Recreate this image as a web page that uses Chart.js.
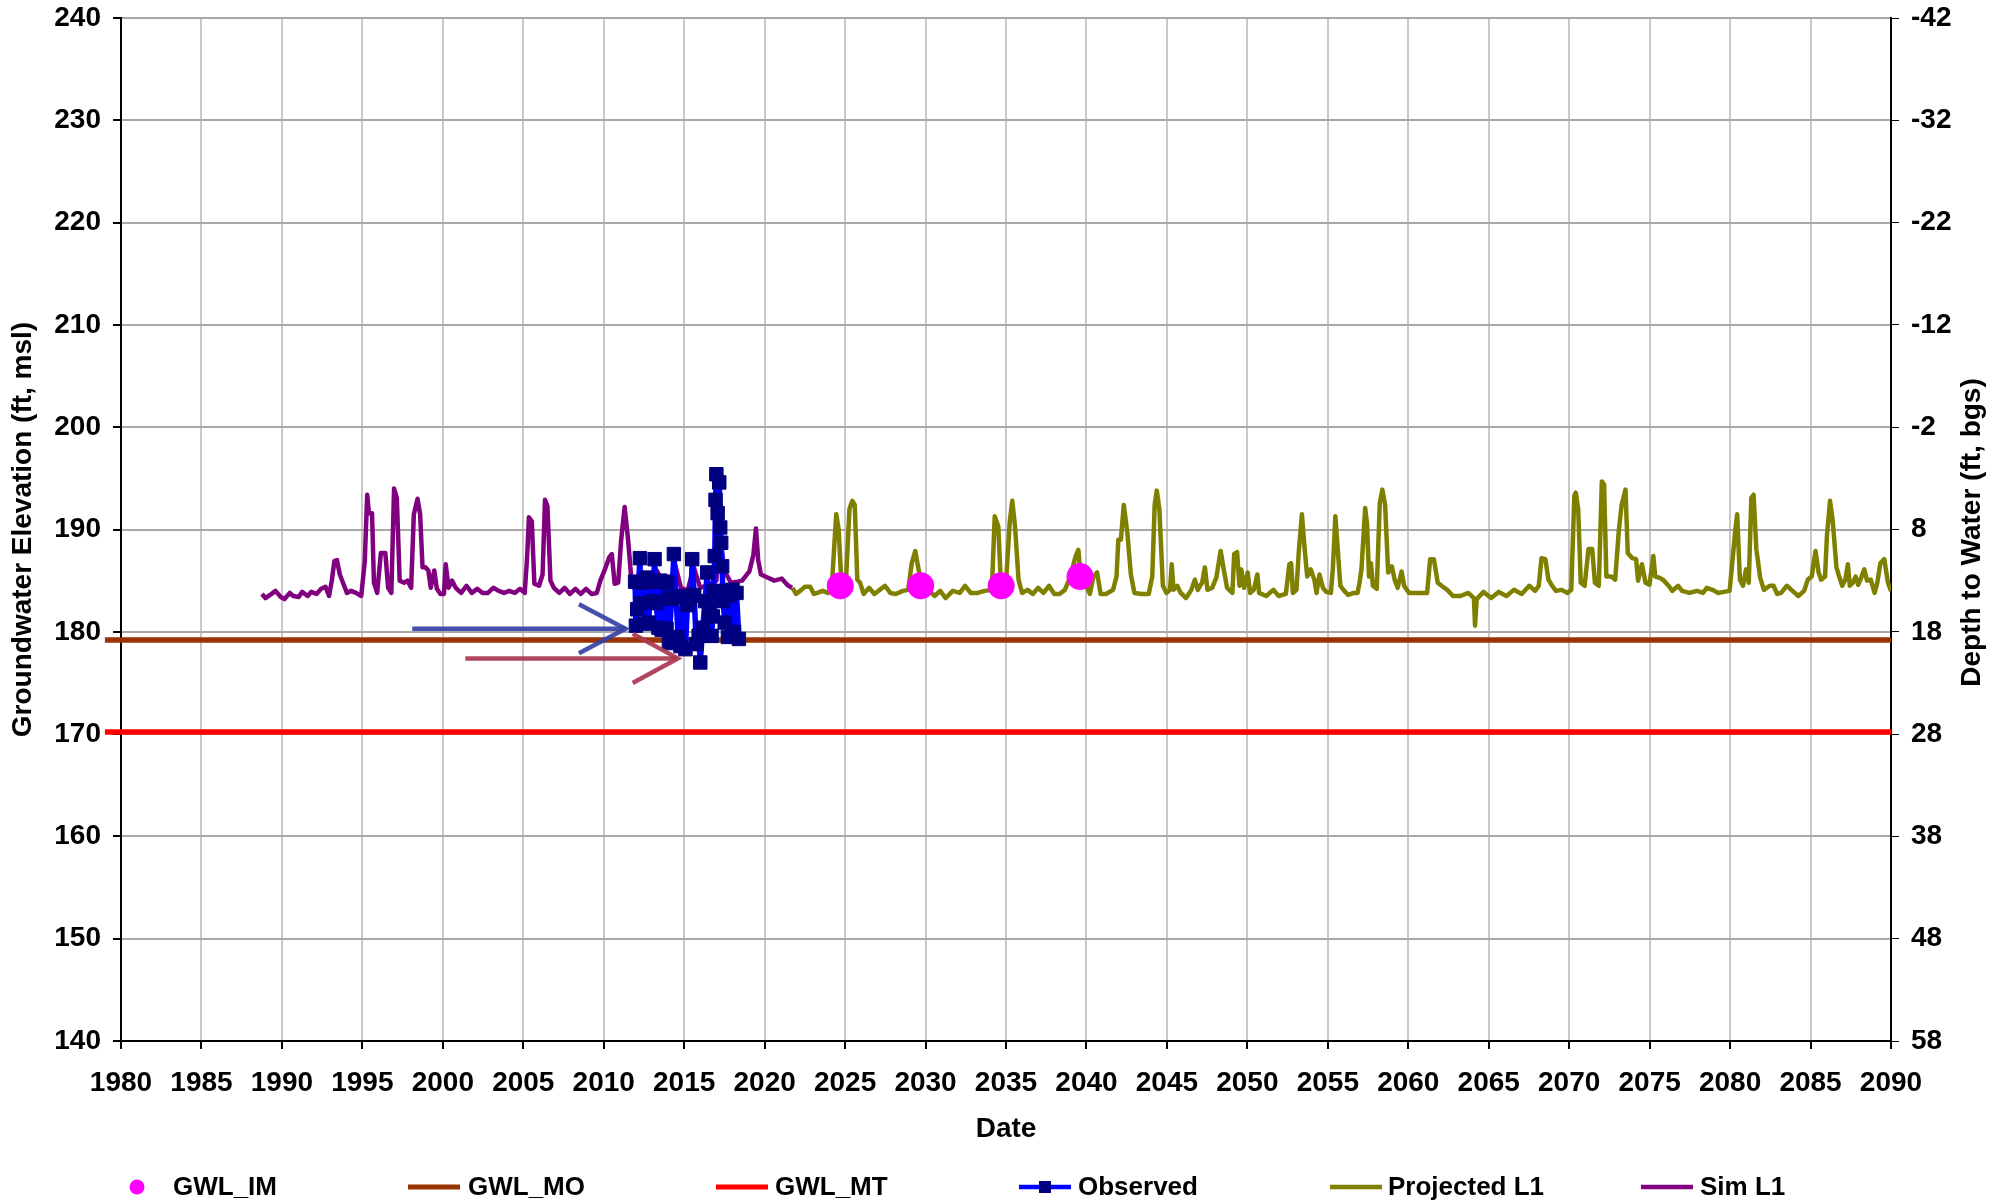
<!DOCTYPE html>
<html>
<head>
<meta charset="utf-8">
<script src="https://cdn.jsdelivr.net/npm/chart.js@4.4.1/dist/chart.umd.min.js"></script>
<style>
  html, body { margin: 0; padding: 0; background: #ffffff; }
  #wrap { width: 2006px; height: 1203px; }
</style>
</head>
<body>
<div id="wrap"><canvas id="myCanvas" width="2006" height="1203"></canvas></div>
<script>
// axis ranges / labels
const yearMin = 1980, yearMax = 2090, yearStep = 5;
const elevMin = 140, elevMax = 240, elevStep = 10;
const depthTop = -42, depthBottom = 58;
const xTitle = "Date";
const yTitle = "Groundwater Elevation (ft, msl)";
const y2Title = "Depth to Water (ft, bgs)";

// [decimal year, elevation ft msl]
const gwlIM = [[2024.7, 184.5], [2029.7, 184.5], [2034.7, 184.5], [2039.6, 185.4]];
const gwlMO = [[1979, 179.2], [2090, 179.2]];
const gwlMT = [[1979, 170.2], [2090, 170.2]];

const observed = [
  [2011.95,184.9],[2012.0,180.6],[2012.08,182.2],[2012.25,187.2],[2012.3,182.8],[2012.42,184.8],
  [2012.55,180.8],[2012.6,184.9],[2012.67,185.3],[2012.8,180.9],[2012.9,184.9],[2013.05,183.0],
  [2013.16,187.1],[2013.25,182.8],[2013.4,180.4],[2013.5,185.0],[2013.6,180.2],[2013.75,184.9],
  [2013.9,180.3],[2013.95,184.8],[2014.0,183.3],[2014.05,178.9],[2014.22,183.2],[2014.36,187.6],
  [2014.5,183.4],[2014.62,179.5],[2014.77,178.6],[2014.9,183.5],[2015.08,178.3],[2015.2,182.6],
  [2015.35,183.2],[2015.42,183.5],[2015.5,187.1],[2015.62,183.6],[2015.75,178.8],[2015.9,179.6],
  [2016.0,177.0],[2016.15,180.4],[2016.3,183.0],[2016.43,185.8],[2016.55,181.8],[2016.6,182.8],
  [2016.7,179.6],[2016.78,181.5],[2016.82,184.0],[2016.9,187.4],[2016.95,192.9],[2017.0,195.4],
  [2017.08,191.6],[2017.18,194.6],[2017.24,190.2],[2017.3,188.7],[2017.36,186.4],[2017.42,183.0],
  [2017.52,180.9],[2017.62,184.0],[2017.72,179.5],[2017.85,183.5],[2018.0,184.1],[2018.1,180.0],
  [2018.25,183.8],[2018.4,179.3]
];

const simL1 = [
  [1988.76,183.7],[1988.98,183.3],[1989.27,183.6],[1989.6,184.0],[1989.93,183.4],[1990.16,183.2],
  [1990.49,183.8],[1990.71,183.5],[1991.04,183.4],[1991.26,183.9],[1991.6,183.5],[1991.82,183.9],
  [1992.15,183.7],[1992.44,184.2],[1992.71,184.4],[1992.93,183.5],[1993.1,185.0],[1993.26,186.9],
  [1993.42,187.0],[1993.6,185.6],[1993.82,184.7],[1994.04,183.8],[1994.3,184.0],[1994.6,183.8],
  [1994.93,183.5],[1995.15,186.9],[1995.3,193.4],[1995.41,191.6],[1995.6,191.6],[1995.72,184.8],
  [1995.92,183.8],[1996.15,187.7],[1996.43,187.7],[1996.6,184.3],[1996.8,183.8],[1996.97,194.0],
  [1997.14,193.1],[1997.32,185.0],[1997.59,184.8],[1997.81,185.0],[1998.03,184.3],[1998.2,191.5],
  [1998.43,193.0],[1998.59,191.5],[1998.74,186.3],[1998.92,186.3],[1999.1,186.0],[1999.25,184.3],
  [1999.47,186.0],[1999.63,184.2],[1999.85,183.7],[2000.07,183.7],[2000.18,186.6],[2000.36,184.3],
  [2000.58,185.0],[2000.8,184.3],[2001.14,183.8],[2001.47,184.5],[2001.8,183.8],[2002.14,184.2],
  [2002.47,183.8],[2002.8,183.8],[2003.14,184.3],[2003.47,184.0],[2003.8,183.8],[2004.13,184.0],
  [2004.47,183.8],[2004.8,184.2],[2005.09,183.8],[2005.24,187.3],[2005.35,191.2],[2005.53,190.8],
  [2005.69,184.7],[2005.98,184.5],[2006.2,185.6],[2006.35,192.9],[2006.5,192.3],[2006.69,185.0],
  [2006.9,184.3],[2007.24,183.8],[2007.57,184.3],[2007.9,183.7],[2008.24,184.2],[2008.57,183.7],
  [2008.9,184.2],[2009.24,183.7],[2009.57,183.8],[2009.79,185.0],[2010.12,186.3],[2010.35,187.3],
  [2010.5,187.6],[2010.68,184.7],[2010.9,184.8],[2011.08,188.9],[2011.3,192.2],[2011.52,188.9],
  [2011.74,184.7],[2012.0,184.0],[2012.5,185.5],[2013.0,184.5],[2013.3,186.0],[2013.7,184.8],
  [2014.1,184.6],[2014.45,186.5],[2014.8,184.3],[2015.2,184.0],[2015.6,186.3],[2016.0,184.3],
  [2016.5,184.6],[2017.0,185.0],[2017.2,189.5],[2017.5,186.0],[2017.9,184.8],[2018.3,184.9],
  [2018.6,185.0],[2019.05,185.9],[2019.3,187.5],[2019.46,190.1],[2019.6,187.0],[2019.77,185.6],
  [2020.18,185.3],[2020.6,185.0],[2021.06,185.2],[2021.4,184.6],[2021.7,184.3]
];

const projectedL1 = [
  [2021.73,184.3],[2021.95,183.7],[2022.28,184.1],[2022.5,184.4],[2022.83,184.4],[2023.06,183.7],
  [2023.28,183.8],[2023.61,184.0],[2023.94,183.8],[2024.16,184.1],[2024.45,191.5],[2024.6,190.0],
  [2024.78,184.5],[2025.05,184.8],[2025.27,192.0],[2025.45,192.8],[2025.6,192.4],[2025.76,185.1],
  [2025.93,184.8],[2026.15,183.7],[2026.49,184.3],[2026.82,183.7],[2027.15,184.1],[2027.48,184.5],
  [2027.81,183.8],[2028.15,183.7],[2028.59,184.0],[2028.92,184.1],[2029.14,186.7],[2029.36,187.9],
  [2029.59,185.9],[2029.81,184.5],[2030.14,184.1],[2030.58,183.5],[2030.91,184.0],[2031.25,183.3],
  [2031.69,184.0],[2032.13,183.8],[2032.46,184.5],[2032.8,183.8],[2033.24,183.8],[2033.68,184.0],
  [2034.12,184.1],[2034.3,191.3],[2034.52,190.3],[2034.68,184.8],[2035.01,185.0],[2035.23,190.7],
  [2035.39,192.8],[2035.56,190.3],[2035.78,185.1],[2036.0,183.8],[2036.34,184.1],[2036.67,183.7],
  [2037.0,184.3],[2037.33,183.8],[2037.67,184.5],[2038.0,183.7],[2038.33,183.7],[2038.66,184.1],
  [2039.0,185.4],[2039.33,187.4],[2039.5,188.0],[2039.66,184.8],[2039.99,184.5],[2040.21,183.7],
  [2040.43,185.4],[2040.66,185.8],[2040.88,183.7],[2041.21,183.7],[2041.65,184.1],[2041.87,185.4],
  [2041.98,189.0],[2042.14,189.0],[2042.32,192.4],[2042.54,189.7],[2042.76,185.6],[2042.98,183.8],
  [2043.42,183.7],[2043.87,183.7],[2044.09,185.4],[2044.24,192.4],[2044.37,193.8],[2044.53,192.0],
  [2044.75,184.5],[2044.97,183.8],[2045.19,184.1],[2045.3,186.6],[2045.41,184.1],[2045.64,184.5],
  [2045.86,183.8],[2046.19,183.3],[2046.52,184.1],[2046.74,185.1],[2046.92,184.1],[2047.19,184.8],
  [2047.36,186.3],[2047.52,184.1],[2047.81,184.3],[2048.07,185.3],[2048.34,187.9],[2048.51,186.3],
  [2048.74,184.3],[2049.07,183.8],[2049.18,187.6],[2049.36,187.8],[2049.51,184.5],[2049.62,186.1],
  [2049.8,184.3],[2050.02,185.8],[2050.17,183.8],[2050.4,184.1],[2050.62,185.6],[2050.73,183.8],
  [2051.17,183.5],[2051.61,184.1],[2051.95,183.5],[2052.39,183.7],[2052.61,186.6],[2052.72,186.7],
  [2052.83,183.8],[2053.05,184.1],[2053.2,187.9],[2053.39,191.5],[2053.56,188.1],[2053.72,185.4],
  [2053.94,186.1],[2054.16,185.1],[2054.3,183.8],[2054.48,185.6],[2054.7,184.3],[2054.9,183.9],
  [2055.19,183.8],[2055.31,186.1],[2055.47,191.3],[2055.66,187.1],[2055.78,184.5],[2056.02,184.0],
  [2056.26,183.6],[2056.61,183.8],[2056.85,183.8],[2056.97,184.8],[2057.09,186.1],[2057.2,188.9],
  [2057.32,192.1],[2057.44,190.5],[2057.56,185.4],[2057.68,186.7],[2057.8,184.5],[2058.04,184.2],
  [2058.23,192.6],[2058.39,193.9],[2058.56,192.4],[2058.75,185.8],[2058.98,186.4],[2059.15,185.1],
  [2059.34,184.3],[2059.58,185.9],[2059.74,184.5],[2060.05,183.8],[2060.41,183.8],[2060.88,183.8],
  [2061.17,183.8],[2061.36,187.1],[2061.59,187.1],[2061.83,184.8],[2062.07,184.5],[2062.42,184.1],
  [2062.78,183.5],[2063.25,183.5],[2063.73,183.8],[2064.08,183.3],[2064.15,180.6],[2064.25,183.2],
  [2064.68,183.9],[2065.15,183.3],[2065.62,183.9],[2066.1,183.5],[2066.57,184.1],[2067.05,183.7],
  [2067.52,184.5],[2067.88,184.0],[2068.11,184.5],[2068.28,187.2],[2068.52,187.1],[2068.71,185.1],
  [2068.94,184.5],[2069.18,184.0],[2069.54,184.1],[2069.89,183.8],[2070.13,184.1],[2070.32,193.3],
  [2070.41,193.6],[2070.56,192.0],[2070.72,184.8],[2070.96,184.5],[2071.2,188.1],[2071.43,188.1],
  [2071.6,184.8],[2071.84,184.5],[2072.03,194.7],[2072.17,194.4],[2072.31,185.4],[2072.62,185.4],
  [2072.86,185.1],[2073.09,190.0],[2073.26,192.4],[2073.5,193.9],[2073.64,187.7],[2073.92,187.2],
  [2074.16,187.1],[2074.28,185.0],[2074.52,186.6],[2074.75,184.8],[2074.99,184.6],[2075.23,187.4],
  [2075.35,185.4],[2075.58,185.3],[2075.82,185.1],[2076.18,184.5],[2076.41,184.0],[2076.77,184.5],
  [2077.01,184.0],[2077.48,183.8],[2077.95,184.0],[2078.31,183.8],[2078.55,184.3],[2078.9,184.1],
  [2079.26,183.8],[2079.61,183.9],[2079.97,184.0],[2080.33,190.0],[2080.44,191.5],[2080.61,185.1],
  [2080.8,184.5],[2080.99,186.1],[2081.16,184.8],[2081.32,193.1],[2081.46,193.4],[2081.63,188.1],
  [2081.87,185.3],[2082.1,184.1],[2082.46,184.5],[2082.7,184.5],[2082.93,183.7],[2083.17,183.8],
  [2083.53,184.5],[2083.88,184.0],[2084.24,183.5],[2084.6,184.0],[2084.83,185.1],[2085.07,185.4],
  [2085.31,187.9],[2085.5,185.8],[2085.66,185.1],[2085.9,185.4],[2086.02,189.4],[2086.21,192.8],
  [2086.38,190.8],[2086.61,186.3],[2086.78,185.4],[2086.97,184.5],[2087.16,185.1],[2087.32,186.6],
  [2087.44,184.5],[2087.63,184.8],[2087.8,185.4],[2087.96,184.6],[2088.15,185.3],[2088.34,186.1],
  [2088.51,185.0],[2088.74,185.1],[2088.98,183.8],[2089.15,184.8],[2089.34,186.7],[2089.58,187.1],
  [2089.81,184.8],[2090.0,184.0]
];

// annotation arrows (year, elevation)
const blueArrowShaft = [[1998.1, 180.3], [2011.35, 180.3]];
const blueArrowHead = [[2008.46, 182.7], [2011.35, 180.3], [2008.46, 177.9]];
const redArrowShaft = [[2001.4, 177.4], [2014.6, 177.4]];
const redArrowHead = [[2011.8, 179.8], [2014.6, 177.4], [2011.8, 175.0]];

const FONT = "'Liberation Sans', Arial, Helvetica, sans-serif";
Chart.defaults.font.family = FONT;
Chart.defaults.font.weight = 'bold';
Chart.defaults.color = '#000000';

const toXY = arr => arr.map(p => ({ x: p[0], y: p[1] }));

function lineSet(label, data, color, width, order, extra) {
  return Object.assign({
    label: label,
    data: toXY(data),
    borderColor: color,
    backgroundColor: color,
    borderWidth: width,
    pointRadius: 0,
    tension: 0,
    fill: false,
    borderJoinStyle: 'round',
    order: order
  }, extra || {});
}

// drop the label half-height padding so the plot reaches the top
const noVPad = s => { s.paddingTop = 0; s.paddingBottom = 0; };

// legend slots: symbol centre x and text x, in canvas pixels
const legendSlots = [
  { sx: 137, tx: 173 }, { sx: 434, tx: 468 }, { sx: 742, tx: 775 },
  { sx: 1045, tx: 1078 }, { sx: 1356, tx: 1388 }, { sx: 1667, tx: 1700 }
];

const extras = {
  id: 'extras',
  afterDraw(chart) {
    const { ctx, chartArea } = chart;

    // right axis title, reading bottom to top
    ctx.save();
    ctx.font = `bold 28px ${FONT}`;
    ctx.fillStyle = '#000';
    ctx.textAlign = 'center';
    ctx.textBaseline = 'middle';
    ctx.translate(chartArea.right + 81, (chartArea.top + chartArea.bottom) / 2 + 3);
    ctx.rotate(-Math.PI / 2);
    ctx.fillText(y2Title, 0, 0);
    ctx.restore();

    // legend
    const ly = chartArea.bottom + 146;
    const items = chart.data.datasets.filter(d => d.inLegend).sort((a, b) => a.legendPos - b.legendPos);
    ctx.save();
    ctx.font = `bold 26px ${FONT}`;
    ctx.textBaseline = 'middle';
    ctx.textAlign = 'left';
    items.forEach((d, i) => {
      const slot = legendSlots[i];
      if (d.showLine === false) {
        ctx.fillStyle = d.pointBackgroundColor;
        ctx.beginPath();
        ctx.arc(slot.sx, ly, 7.5, 0, Math.PI * 2);
        ctx.fill();
      } else {
        ctx.strokeStyle = d.borderColor;
        ctx.lineWidth = d.legendLine || 4.5;
        ctx.beginPath();
        ctx.moveTo(slot.sx - 26, ly);
        ctx.lineTo(slot.sx + 26, ly);
        ctx.stroke();
        if (d.pointStyle === 'rect') {
          ctx.fillStyle = d.pointBackgroundColor;
          ctx.fillRect(slot.sx - 6, ly - 6, 12, 12);
        }
      }
      ctx.fillStyle = '#000';
      ctx.fillText(d.label, slot.tx, ly + 1);
    });
    ctx.restore();
  }
};

const datasets = [
  {
    label: 'GWL_IM', data: toXY(gwlIM), showLine: false, order: 0,
    pointStyle: 'circle', pointRadius: 13.5, pointBackgroundColor: '#FF00FF',
    pointBorderColor: '#FF00FF', pointBorderWidth: 0, inLegend: true, legendPos: 0
  },
  lineSet('', blueArrowShaft, 'rgba(55,65,165,0.92)', 4.5, 1),
  lineSet('', blueArrowHead, 'rgba(55,65,165,0.92)', 4.5, 1, { borderJoinStyle: 'miter' }),
  lineSet('', redArrowShaft, 'rgba(170,55,80,0.92)', 4.5, 1),
  lineSet('', redArrowHead, 'rgba(170,55,80,0.92)', 4.5, 1, { borderJoinStyle: 'miter' }),
  lineSet('Observed', observed, '#0000FF', 5.5, 2, {
    pointStyle: 'rect', pointRadius: 9.5, pointBackgroundColor: '#000080',
    pointBorderColor: '#000080', pointBorderWidth: 1, inLegend: true, legendPos: 3
  }),
  lineSet('Sim L1', simL1, '#800080', 4.5, 3, { inLegend: true, legendPos: 5 }),
  lineSet('Projected L1', projectedL1, '#808000', 4.5, 4, { inLegend: true, legendPos: 4 }),
  lineSet('GWL_MO', gwlMO, '#993300', 5.5, 5, {
    clip: { left: 18, top: 0, right: 0, bottom: 0 }, inLegend: true, legendPos: 1, legendLine: 5
  }),
  lineSet('GWL_MT', gwlMT, '#FF0000', 5.5, 6, {
    clip: { left: 18, top: 0, right: 0, bottom: 0 }, inLegend: true, legendPos: 2, legendLine: 5
  })
];

const chart = new Chart(document.getElementById('myCanvas').getContext('2d'), {
  type: 'line',
  data: { datasets: datasets },
  plugins: [extras],
  options: {
    responsive: false,
    devicePixelRatio: 1,
    animation: false,
    events: [],
    layout: { padding: { top: 18, left: 0, right: 0, bottom: 0 } },
    plugins: {
      legend: { display: false },
      tooltip: { enabled: false }
    },
    scales: {
      x: {
        type: 'linear',
        min: yearMin,
        max: yearMax,
        afterFit: s => { s.height = 162; },
        ticks: {
          stepSize: yearStep, autoSkip: false, maxRotation: 0, padding: 17,
          font: { size: 28, weight: 'bold' },
          callback: v => String(v)
        },
        grid: { color: '#C8C8C8', lineWidth: 2, tickColor: '#000', tickLength: 8 },
        border: { color: '#000', width: 2 },
        title: {
          display: true, text: xTitle,
          font: { size: 28, weight: 'bold' },
          padding: { top: 0, bottom: 57 }
        }
      },
      y: {
        position: 'left',
        min: elevMin,
        max: elevMax,
        afterFit: s => { s.width = 121; noVPad(s); },
        ticks: {
          stepSize: elevStep, padding: 12,
          font: { size: 28, weight: 'bold' },
          callback: v => String(v)
        },
        grid: { color: '#A8A8A8', lineWidth: 2, tickColor: '#000', tickLength: 8 },
        border: { color: '#000', width: 2 },
        title: {
          display: true, text: yTitle,
          font: { size: 28, weight: 'bold' },
          padding: { top: 6, bottom: 0 }
        }
      },
      y2: {
        position: 'right',
        min: depthTop,
        max: depthBottom,
        reverse: true,
        afterFit: s => { s.width = 115; noVPad(s); },
        ticks: {
          stepSize: 10, padding: 12,
          font: { size: 28, weight: 'bold' },
          callback: v => String(v)
        },
        grid: { drawOnChartArea: false, tickColor: '#000', tickLength: 8 },
        border: { color: '#000', width: 2 }
      }
    }
  }
});
</script>
</body>
</html>
